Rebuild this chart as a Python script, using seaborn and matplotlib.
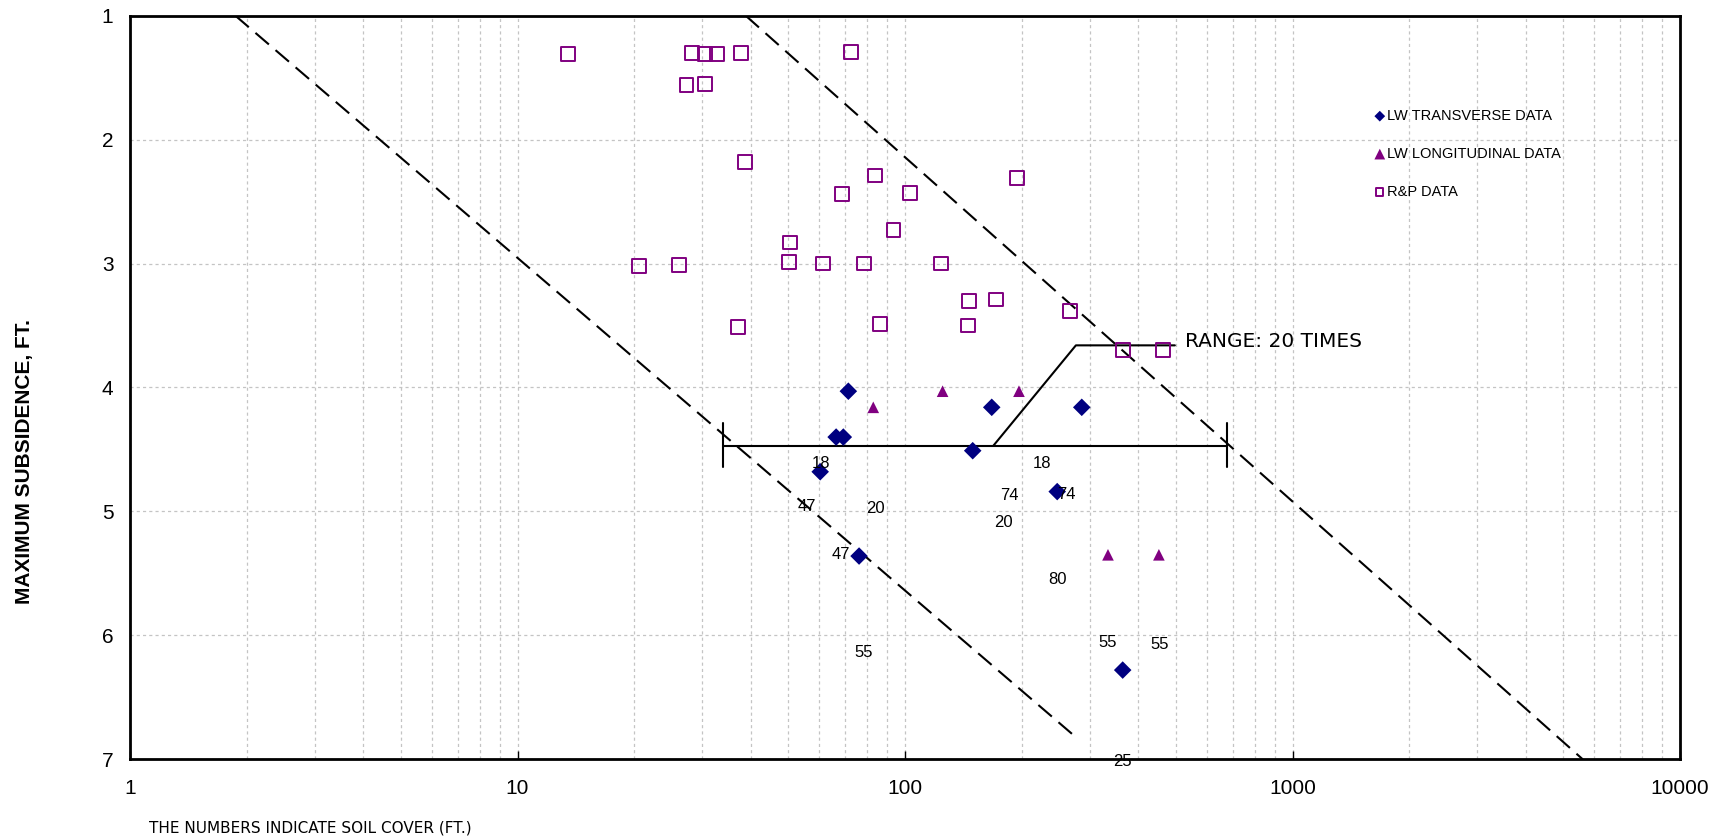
import numpy as np
import pandas as pd
import matplotlib
matplotlib.use('Agg')
import matplotlib.pyplot as plt
import seaborn as sns

# R&P data (soil cover ft, max subsidence ft)
rp_x = [13.5, 28.2, 30.4, 32.8, 37.7, 72.4, 27.3, 30.5, 38.6, 68.7, 83.5, 103, 194, 93.4, 50.5,
        20.6, 26.1, 50.3, 61.4, 78.2, 124, 146.6, 171.7, 37.1, 86.3, 145.7, 266, 366, 464]
rp_y = [1.31, 1.30, 1.31, 1.31, 1.30, 1.29, 1.56, 1.55, 2.18, 2.44, 2.29, 2.43, 2.31, 2.73, 2.83,
        3.02, 3.01, 2.99, 3.00, 3.00, 3.00, 3.30, 3.29, 3.51, 3.49, 3.50, 3.38, 3.70, 3.70]

# longwall transverse data
tr_x = [71.4, 167.4, 285.8, 66.4, 69.3, 149.5, 60.4, 247, 76.1, 364.5]
tr_y = [4.03, 4.16, 4.16, 4.40, 4.40, 4.51, 4.68, 4.84, 5.36, 6.28]

# longwall longitudinal data
lo_x = [82.8, 125, 196.8, 334, 452]
lo_y = [4.16, 4.03, 4.03, 5.35, 5.35]

# soil cover annotations
cover_txt = ['18', '18', '47', '20', '74', '74', '20', '47', '80', '55', '55', '55', '25']
cover_x = [60.7, 225, 55.7, 83.7, 185.8, 261, 179.4, 68.2, 247, 78, 333.6, 455, 364.5]
cover_y = [4.61, 4.61, 4.96, 4.98, 4.87, 4.86, 5.09, 5.35, 5.55, 6.14, 6.06, 6.07, 7.02]

# envelope lines
env_lo_x = [1.87, 278]
env_lo_y = [1.0, 6.83]
env_hi_x = [38.8, 5610]
env_hi_y = [1.0, 7.0]

# range bracket
range_lo, range_hi, range_y = 34.0, 676, 4.47
bend_x = [169, 276, 497]
bend_y = [4.47, 3.66, 3.66]

sns.set_theme(style='white')
plt.rcParams['font.family'] = ['Liberation Sans', 'DejaVu Sans']
plt.rcParams.update({'text.color': 'black', 'axes.labelcolor': 'black',
                     'xtick.color': 'black', 'ytick.color': 'black'})

fig = plt.figure(figsize=(17.27, 8.38), dpi=100)
ax = fig.add_axes([0.0753, 0.0939, 0.8975, 0.8874])

ax.plot(env_lo_x, env_lo_y, color='black', lw=1.5, dashes=(8.5, 4.2))
ax.plot(env_hi_x, env_hi_y, color='black', lw=1.5, dashes=(8.5, 4.2))

ax.plot([range_lo, range_hi], [range_y, range_y], color='black', lw=1.5)
ax.plot([range_lo, range_lo], [4.29, 4.64], color='black', lw=1.5)
ax.plot([range_hi, range_hi], [4.29, 4.64], color='black', lw=1.5)
ax.plot(bend_x, bend_y, color='black', lw=1.5)
ax.text(528, 3.63, 'RANGE: 20 TIMES', fontsize=14.5, family='DejaVu Sans',
        ha='left', va='center')

sns.scatterplot(x=tr_x, y=tr_y, marker='D', color='#000080', s=80, edgecolor='none',
                ax=ax, label='LW TRANSVERSE DATA', zorder=3)
sns.scatterplot(x=lo_x, y=lo_y, marker='^', color='#800080', s=70, edgecolor='none',
                ax=ax, label='LW LONGITUDINAL DATA', zorder=3)
sns.scatterplot(x=rp_x, y=rp_y, marker='s', s=100, facecolor='none', edgecolor='#800080',
                linewidth=1.4, ax=ax, label='R&P DATA', zorder=3)

for t, xx, yy in zip(cover_txt, cover_x, cover_y):
    ax.text(xx, yy, t, fontsize=12, ha='center', va='center', zorder=4)

ax.set_xscale('log')
ax.set_xlim(1, 10000)
ax.set_ylim(7, 1)
ax.set_xticks([1, 10, 100, 1000, 10000])
ax.set_xticklabels(['1', '10', '100', '1000', '10000'])
ax.set_yticks([1, 2, 3, 4, 5, 6, 7])
ax.set_yticklabels(['1', '2', '3', '4', '5', '6', '7'])
ax.tick_params(axis='x', which='major', direction='in', length=6, width=1,
               labelsize=15, pad=14, bottom=True)
ax.tick_params(axis='x', which='minor', length=0)
ax.tick_params(axis='y', length=0, labelsize=15, pad=12)

ax.grid(True, which='major', axis='both', color='#c4c4c4', lw=0.9, ls=(0, (2.5, 2.5)))
ax.grid(True, which='minor', axis='x', color='#c4c4c4', lw=0.9, ls=(0, (2.5, 2.5)))
for sp in ax.spines.values():
    sp.set_color('black')
    sp.set_linewidth(2)

ax.set_ylabel('MAXIMUM SUBSIDENCE, FT.', fontsize=15, fontweight='bold')
ax.yaxis.set_label_coords(-0.062, 0.400)
ax.set_xlabel('THE NUMBERS INDICATE SOIL COVER (FT.)', fontsize=11, family='DejaVu Sans',
              ha='left')
ax.xaxis.set_label_coords(0.0123, -0.0826)

leg = ax.legend(loc='upper left', bbox_to_anchor=(0.803, 0.8745), frameon=False, fontsize=10.5,
                handlelength=0.7, handletextpad=0.15, labelspacing=1.64,
                borderpad=0, borderaxespad=0)
for h, sz in zip(leg.legend_handles, [30, 60, 26]):
    h.set_sizes([sz])

fig.savefig('out.png', dpi=100)
